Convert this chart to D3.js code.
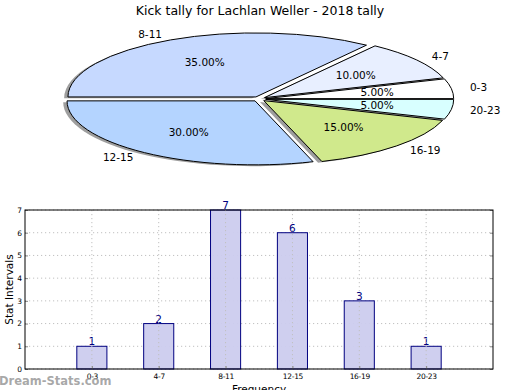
<!DOCTYPE html>
<html><head><meta charset="utf-8">
<script src="https://cdn.jsdelivr.net/npm/d3@7"></script>
<style>body{margin:0;background:#fff;}svg{display:block;font-family:"DejaVu Sans",sans-serif;}</style>
</head><body>
<svg id="c" width="520" height="390"></svg>
<script>
const title = "Kick tally for Lachlan Weller - 2018 tally";
const categories = ["0-3","4-7","8-11","12-15","16-19","20-23"];
const counts = [1,2,7,6,3,1];
const sliceColors = ["#ffffff","#e8efff","#c6d9ff","#b4d4ff","#d0e98c","#d8ffff"];
const yTicks = [0,1,2,3,4,5,6,7];
const yLabel = "Stat Intervals";
const xLabel = "Frequency";
const watermark = "Dream-Stats.com";

const svg = d3.select("#c");
svg.append("text").attr("x",260).attr("y",15).attr("text-anchor","middle")
  .attr("font-size",12.5).attr("fill","#000").text(title);

// ---- Pie (elliptical, exploded, shadowed) ----
const cx = 259, cy = 99, rx = 188, ry = 64, explode = 0.036;
const total = d3.sum(counts);
const pie = d3.pie().sort(null).startAngle(Math.PI/2).endAngle(Math.PI/2 - 2*Math.PI);
const arcs = pie(counts);
const arcGen = d3.arc().innerRadius(0).outerRadius(1);
const pieG = svg.append("g");
function off(a){
  return [explode*Math.sin(a)*rx, -explode*Math.cos(a)*ry];
}
arcs.forEach(d=>{
  const m=(d.startAngle+d.endAngle)/2, o=off(m);
  pieG.append("path").attr("d",arcGen(d))
    .attr("transform",`translate(${cx+o[0]-3.8},${cy+o[1]+1.3}) scale(${rx},${ry})`)
    .attr("fill","#000").attr("fill-opacity",0.38).attr("stroke","none");
});
arcs.forEach((d,i)=>{
  const m=(d.startAngle+d.endAngle)/2, o=off(m);
  pieG.append("path").attr("d",arcGen(d))
    .attr("transform",`translate(${cx+o[0]},${cy+o[1]}) scale(${rx},${ry})`)
    .attr("fill",sliceColors[i]).attr("stroke","#000").attr("stroke-width",1)
    .attr("vector-effect","non-scaling-stroke").attr("stroke-linejoin","round");
});
arcs.forEach((d,i)=>{
  const m=(d.startAngle+d.endAngle)/2;
  const sx=Math.sin(m), sy=-Math.cos(m);
  const lx = cx + (1.1+explode)*sx*rx, ly = cy + (1.1+explode)*sy*ry;
  pieG.append("text").attr("x",lx).attr("y",ly).attr("dy","0.35em")
    .attr("text-anchor", sx<0?"end":"start").attr("font-size",10.5).text(categories[i]);
  const px = cx + (0.6+explode)*sx*rx, py = cy + (0.6+explode)*sy*ry;
  pieG.append("text").attr("x",px).attr("y",py).attr("dy","0.35em")
    .attr("text-anchor","middle").attr("font-size",10.5)
    .text((counts[i]/total*100).toFixed(2)+"%");
});

// ---- Bar chart ----
const L=25,R=493,T=210,B=369;
const x = d3.scaleLinear().domain([-1,6]).range([L,R]);
const y = d3.scaleLinear().domain([0,7]).range([B,T]);
const bg = svg.append("g");
yTicks.forEach(t=>{
  bg.append("line").attr("x1",L).attr("x2",R).attr("y1",y(t)).attr("y2",y(t))
    .attr("stroke","#c0c0c0").attr("stroke-dasharray","1.2,2.8").attr("stroke-width",1);
});
const bw = x(0.45)-x(0);
counts.forEach((v,i)=>{
  bg.append("rect").attr("x",x(i)-bw/2).attr("y",y(v)).attr("width",bw).attr("height",y(0)-y(v))
    .attr("fill","#ccccee").attr("fill-opacity",0.95).attr("stroke","#000080").attr("stroke-width",1);
  bg.append("text").attr("x",x(i)).attr("y",y(v)-1).attr("text-anchor","middle")
    .attr("font-size",10.5).attr("fill","#000080").text(v);
});
categories.forEach((c,i)=>{
  bg.append("line").attr("x1",x(i)).attr("x2",x(i)).attr("y1",T).attr("y2",B)
    .attr("stroke","#c0c0c0").attr("stroke-dasharray","1.2,2.8").attr("stroke-width",1);
});
const yAx = d3.axisLeft(y).tickValues(yTicks).tickFormat(d3.format("d")).tickSize(-3).tickPadding(3);
const ga = bg.append("g").attr("transform",`translate(${L},0)`).call(yAx);
ga.select(".domain").remove();
ga.selectAll("line").attr("stroke","#888");
ga.selectAll("text").attr("font-size",7.5).attr("font-family","DejaVu Sans");
const yAxR = d3.axisRight(y).tickValues(yTicks).tickSize(-3).tickFormat("");
const gr = bg.append("g").attr("transform",`translate(${R},0)`).call(yAxR);
gr.select(".domain").remove(); gr.selectAll("line").attr("stroke","#888");
const xAx = d3.axisBottom(x).tickValues(d3.range(categories.length)).tickFormat(i=>categories[i]).tickSize(-3).tickPadding(5);
const gx = bg.append("g").attr("transform",`translate(0,${B})`).call(xAx);
gx.select(".domain").remove(); gx.selectAll("line").attr("stroke","#888");
gx.selectAll("text").attr("font-size",7.5).attr("font-family","DejaVu Sans").attr("letter-spacing","-0.3");
bg.append("rect").attr("x",L).attr("y",T).attr("width",R-L).attr("height",B-T)
  .attr("fill","none").attr("stroke","#000").attr("stroke-width",1);
svg.append("text").attr("transform",`translate(13,${(T+B)/2}) rotate(-90)`)
  .attr("text-anchor","middle").attr("font-size",10.5).text(yLabel);
svg.append("text").attr("x",259).attr("y",393).attr("text-anchor","middle")
  .attr("font-size",10.5).text(xLabel);
svg.append("text").attr("x",-1).attr("y",385).attr("font-size",11.5).attr("font-weight","bold")
  .attr("fill","#999").attr("fill-opacity",0.85).text(watermark);
</script>
</body></html>
